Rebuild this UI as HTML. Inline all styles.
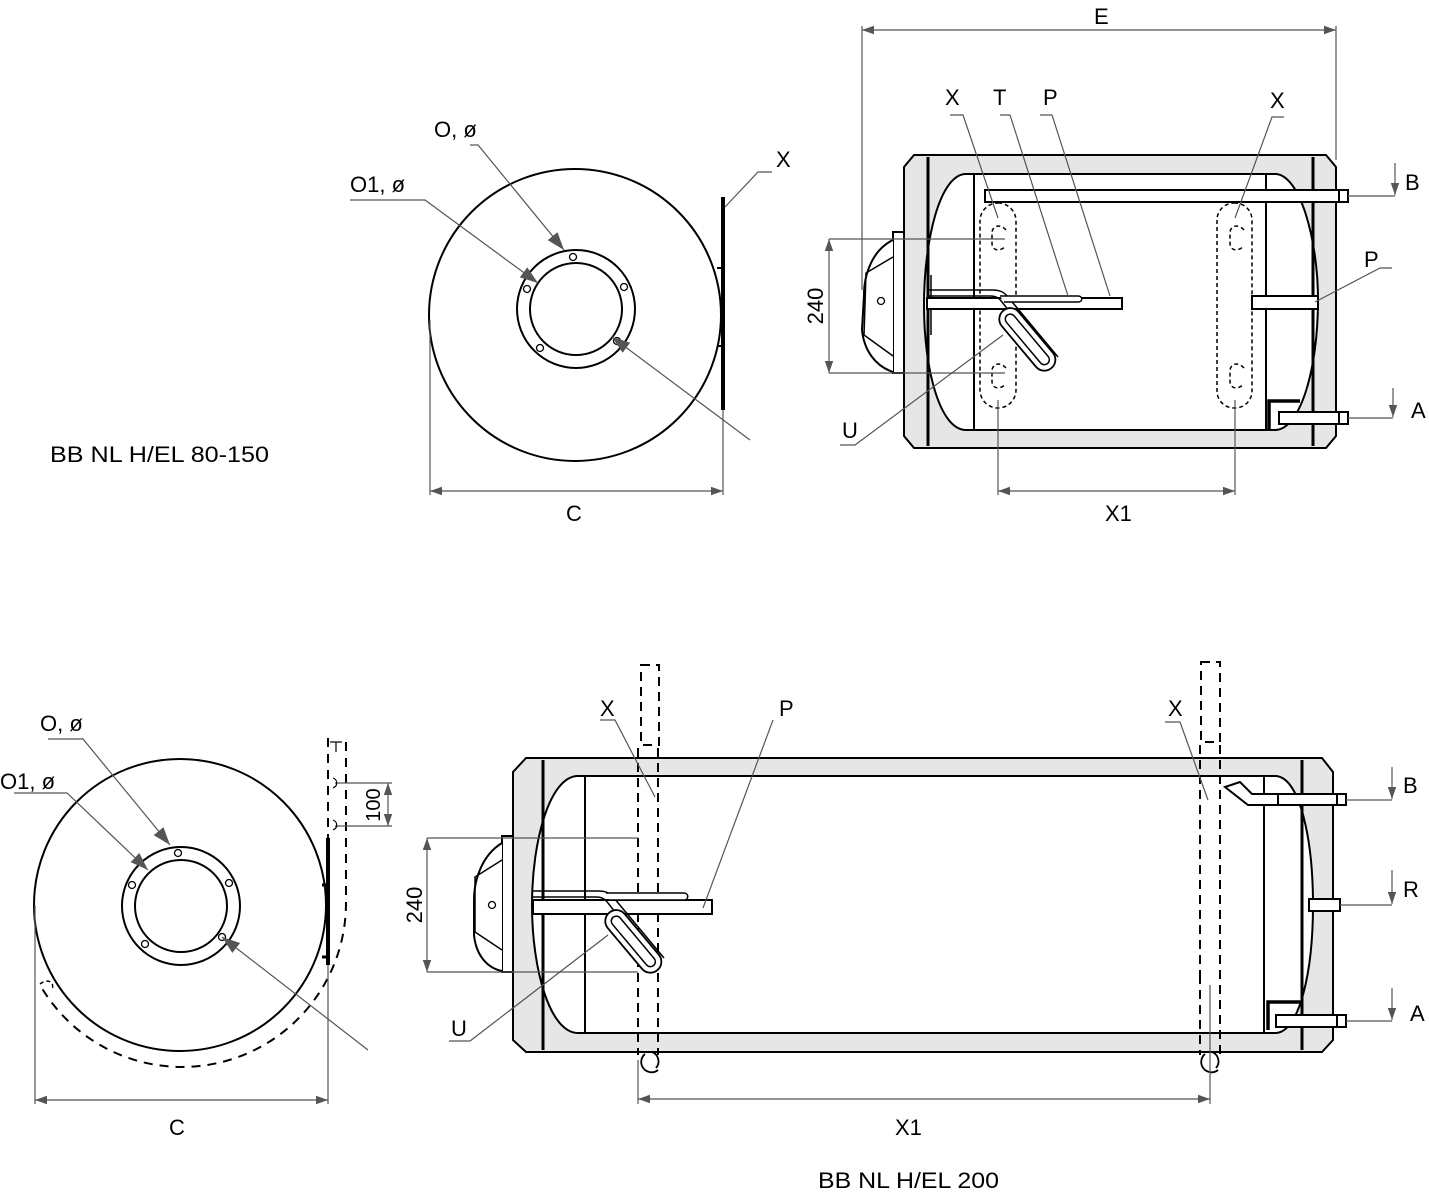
<!DOCTYPE html>
<html><head><meta charset="utf-8"><style>
html,body{margin:0;padding:0;background:#fff}
svg{display:block}
text{font-family:"Liberation Sans",sans-serif;font-size:22px;fill:#000}
</style></head><body>
<svg width="1429" height="1198" viewBox="0 0 1429 1198" xmlns="http://www.w3.org/2000/svg">
<defs>
<marker id="ar" viewBox="0 0 10 10" refX="10" refY="5" markerWidth="12" markerHeight="12" markerUnits="userSpaceOnUse" orient="auto-start-reverse"><path d="M0,1.5 L10,5 L0,8.5z" fill="#555"/></marker>
<marker id="ab" viewBox="0 0 10 10" refX="10" refY="5" markerWidth="18" markerHeight="18" markerUnits="userSpaceOnUse" orient="auto"><path d="M0,1.5 L10,5 L0,8.5z" fill="#555"/></marker>
</defs>
<g fill="none" stroke="#000" stroke-width="2">

<circle cx="575" cy="315" r="146"/>
<circle cx="576" cy="309" r="59"/>
<circle cx="576" cy="309" r="46"/>
<g stroke-width="1.3"><circle cx="573" cy="257" r="3.5"/><circle cx="527" cy="289" r="3.5"/><circle cx="624" cy="287" r="3.5"/><circle cx="540" cy="348" r="3.5"/><circle cx="617" cy="341" r="3.5"/></g>
<line x1="723" y1="197" x2="723" y2="410" stroke-width="4"/>
<line x1="717" y1="268" x2="723" y2="268"/><line x1="717" y1="346" x2="723" y2="346"/>
<g stroke="#555" stroke-width="1.2">
<line x1="430" y1="320" x2="430" y2="495"/><line x1="723" y1="410" x2="723" y2="495"/>
<line x1="430" y1="491" x2="723" y2="491" marker-start="url(#ar)" marker-end="url(#ar)"/>
<polyline points="470,145 478,145 564,250" marker-end="url(#ab)"/>
<polyline points="350,200 425,200 538,283" marker-end="url(#ab)"/>
<line x1="750" y1="440" x2="612" y2="337" marker-end="url(#ab)"/>
<polyline points="772,172 758,172 725,207"/>
</g>

<path d="M914,155 L1326,155 L1336,167 L1336,436 L1326,448 L914,448 L904,436 L904,167z" fill="#e6e6e6"/>
<path d="M966,174 L1275,174 C1300,174 1318,240 1318,300 C1318,370 1300,430 1275,430 L966,430 C940,430 924,370 924,305 C924,240 940,174 966,174z" fill="#fff"/>
<line x1="928" y1="157" x2="928" y2="446" stroke-width="3"/>
<line x1="1313" y1="157" x2="1313" y2="446" stroke-width="3"/>
<line x1="974" y1="174" x2="974" y2="430"/><line x1="1266" y1="174" x2="1266" y2="430"/>
<rect x="985" y="190" width="354" height="12" fill="#fff"/><rect x="1339" y="190" width="9" height="12" fill="#fff"/>
<rect x="1252" y="296" width="66" height="13" fill="#fff"/>
<path d="M1269,430 L1269,401 L1300,401" stroke-width="3.5"/>
<rect x="1279" y="412" width="60" height="12" fill="#fff"/><rect x="1339" y="412" width="9" height="12" fill="#fff"/>
<g stroke-dasharray="4,3" stroke-width="1.5">
<rect x="980" y="203" width="36" height="205" rx="18"/>
<rect x="1217" y="203" width="35" height="205" rx="17"/>
<path d="M1006,230 C1000,223 992,226 992,233 L992,243 C992,251 1000,252 1006,246"/>
<path d="M1006,368 C1000,361 992,364 992,371 L992,381 C992,389 1000,390 1006,384"/>
<path d="M1244,230 C1238,223 1230,226 1230,233 L1230,243 C1230,251 1238,252 1244,246"/>
<path d="M1244,368 C1238,361 1230,364 1230,371 L1230,381 C1230,389 1238,390 1244,384"/>
</g>
<rect x="893" y="232" width="11" height="141" fill="#fff"/>
<path d="M893,240 C872,250 864,275 864,295 L862,330 C864,350 875,366 893,372" fill="#fff"/>
<path d="M893,257 L866,273 L864,335 L893,356" stroke-width="1.5"/>
<circle cx="881" cy="301" r="3.5" stroke-width="1.3"/>
<line x1="931" y1="275" x2="931" y2="335" stroke-width="1.5"/>
<rect x="927" y="298" width="195" height="11" fill="#fff"/>
<path d="M927,290 L992,290 C1000,290 1004,292 1008,297 L1058,357" stroke-width="1.5"/>
<path d="M927,296 L990,296 C996,296 999,298 1002,302 L1046,358" stroke-width="1.5"/>
<path d="M1000,296 L1078,296 C1083,296 1083,302 1078,302 L1004,302" stroke-width="1.5" fill="#fff"/>
<rect x="990" y="328" width="75" height="22" rx="11" transform="rotate(50 1027 339)" fill="#fff" stroke-width="1.8"/>
<rect x="996" y="334" width="63" height="10" rx="5" transform="rotate(50 1027 339)" stroke-width="1.5"/>
<g stroke="#555" stroke-width="1.2">
<line x1="862" y1="30" x2="1336" y2="30" marker-start="url(#ar)" marker-end="url(#ar)"/>
<line x1="862" y1="26" x2="862" y2="290"/><line x1="1336" y1="26" x2="1336" y2="160"/>
<line x1="829" y1="239" x2="1005" y2="239"/><line x1="829" y1="373" x2="1005" y2="373"/>
<line x1="829" y1="239" x2="829" y2="373" marker-start="url(#ar)" marker-end="url(#ar)"/>
<line x1="998" y1="400" x2="998" y2="495"/><line x1="1235" y1="400" x2="1235" y2="495"/>
<line x1="998" y1="491" x2="1235" y2="491" marker-start="url(#ar)" marker-end="url(#ar)"/>
<polyline points="950,115 963,115 998,218"/>
<polyline points="1000,115 1010,115 1068,296"/>
<polyline points="1040,115 1052,115 1110,296"/>
<polyline points="1284,117 1272,117 1235,218"/>
<polyline points="1392,268 1380,268 1315,302"/>
<polyline points="1348,196 1395,196"/><line x1="1395" y1="163" x2="1395" y2="195" marker-end="url(#ar)"/>
<polyline points="1348,418 1393,418"/><line x1="1393" y1="388" x2="1393" y2="417" marker-end="url(#ar)"/>
<polyline points="840,445 855,445 1003,335"/>
</g>

<circle cx="180" cy="905" r="146"/>
<circle cx="181" cy="906" r="59"/>
<circle cx="181" cy="906" r="46"/>
<g stroke-width="1.3"><circle cx="178" cy="853" r="3.5"/><circle cx="132" cy="885" r="3.5"/><circle cx="229" cy="883" r="3.5"/><circle cx="145" cy="944" r="3.5"/><circle cx="222" cy="937" r="3.5"/></g>
<g stroke-dasharray="9,7">
<line x1="328" y1="738" x2="328" y2="838"/>
<line x1="346" y1="742" x2="346" y2="902"/>
<path d="M346,902 A164,164 0 0 1 40,985"/>
</g>
<path d="M40,984 C48,978 55,982 52,990" stroke-dasharray="4,3" stroke-width="1.5"/>
<line x1="328" y1="838" x2="328" y2="965" stroke-width="4"/>
<line x1="322" y1="885" x2="328" y2="885" stroke-width="3"/><line x1="322" y1="957" x2="328" y2="957" stroke-width="3"/>
<g stroke="#555" stroke-width="1.2">
<line x1="35" y1="905" x2="35" y2="1104"/><line x1="328" y1="965" x2="328" y2="1104"/>
<line x1="35" y1="1100" x2="328" y2="1100" marker-start="url(#ar)" marker-end="url(#ar)"/>
<line x1="335" y1="783" x2="392" y2="783"/><line x1="335" y1="826" x2="392" y2="826"/>
<line x1="388" y1="783" x2="388" y2="826" marker-start="url(#ar)" marker-end="url(#ar)"/>
<polyline points="48,739 83,739 170,845" marker-end="url(#ab)"/>
<polyline points="14,793 67,793 148,870" marker-end="url(#ab)"/>
<line x1="368" y1="1050" x2="222" y2="937" marker-end="url(#ab)"/>
</g>

<path d="M526,758 L1322,758 L1333,772 L1333,1040 L1322,1052 L526,1052 L513,1040 L513,772z" fill="#e6e6e6"/>
<path d="M578,776 L1275,776 C1300,776 1313,840 1313,905 C1313,970 1300,1033 1275,1033 L578,1033 C550,1033 532,970 532,905 C532,840 550,776 578,776z" fill="#fff"/>
<line x1="543" y1="760" x2="543" y2="1050" stroke-width="3"/>
<line x1="1302" y1="760" x2="1302" y2="1050" stroke-width="3"/>
<line x1="585" y1="776" x2="585" y2="1033"/><line x1="1264" y1="776" x2="1264" y2="1033"/>
<path d="M1225,787 L1240,782 L1252,794 L1278,794 L1278,805 L1248,805z" fill="#fff"/>
<rect x="1278" y="794" width="59" height="11" fill="#fff"/><rect x="1337" y="794" width="9" height="11" fill="#fff"/>
<rect x="1309" y="899" width="31" height="12" fill="#fff"/>
<path d="M1268,1030 L1268,1002 L1300,1002" stroke-width="3.5"/>
<rect x="1276" y="1015" width="61" height="12" fill="#fff"/><rect x="1337" y="1015" width="9" height="12" fill="#fff"/>
<g stroke-dasharray="9,6">
<rect x="641" y="665" width="18" height="80"/>
<line x1="638" y1="748" x2="638" y2="1055"/><line x1="658" y1="748" x2="658" y2="1055"/>
<rect x="1201" y="662" width="19" height="80"/>
<line x1="1200" y1="745" x2="1200" y2="975"/><line x1="1220" y1="745" x2="1220" y2="1055"/>
<line x1="1200" y1="975" x2="1200" y2="1055"/>
</g>
<path d="M645,1054 A10,10 0 0 0 658,1070" stroke-width="1.8"/><path d="M652,1052 A10,10 0 0 1 656,1068" stroke-width="1.8"/>
<path d="M1205,1054 A10,10 0 0 0 1218,1070" stroke-width="1.8"/><path d="M1212,1052 A10,10 0 0 1 1216,1068" stroke-width="1.8"/>
<rect x="502" y="836" width="11" height="136" fill="#fff"/>
<path d="M502,843 C482,855 474,880 474,900 L474,935 C476,955 487,968 502,971" fill="#fff"/>
<path d="M502,860 L475,877 L475,932 L502,950" stroke-width="1.5"/>
<circle cx="492" cy="905" r="3.5" stroke-width="1.3"/>
<rect x="533" y="900" width="179" height="14" fill="#fff"/>
<path d="M533,891 L598,891 C606,891 610,893 614,898 L664,958" stroke-width="1.5"/>
<path d="M533,897 L596,897 C602,897 605,899 608,903 L652,959" stroke-width="1.5"/>
<path d="M606,893 L684,893 C689,893 689,900 684,900 L610,900" stroke-width="1.5" fill="#fff"/>
<rect x="596" y="930" width="75" height="22" rx="11" transform="rotate(50 633 941)" fill="#fff" stroke-width="1.8"/>
<rect x="602" y="936" width="63" height="10" rx="5" transform="rotate(50 633 941)" stroke-width="1.5"/>
<g stroke="#555" stroke-width="1.2">
<line x1="427" y1="838" x2="638" y2="838"/><line x1="427" y1="972" x2="638" y2="972"/>
<line x1="427" y1="838" x2="427" y2="972" marker-start="url(#ar)" marker-end="url(#ar)"/>
<line x1="638" y1="1060" x2="638" y2="1104"/><line x1="1210" y1="985" x2="1210" y2="1104"/>
<line x1="638" y1="1099" x2="1210" y2="1099" marker-start="url(#ar)" marker-end="url(#ar)"/>
<polyline points="600,720 615,720 655,797"/>
<line x1="773" y1="720" x2="703" y2="908"/>
<polyline points="1165,722 1180,722 1208,800"/>
<polyline points="449,1041 470,1041 608,935"/>
<polyline points="1346,800 1392,800"/><line x1="1392" y1="767" x2="1392" y2="799" marker-end="url(#ar)"/>
<polyline points="1340,905 1392,905"/><line x1="1392" y1="870" x2="1392" y2="904" marker-end="url(#ar)"/>
<polyline points="1346,1021 1392,1021"/><line x1="1392" y1="988" x2="1392" y2="1020" marker-end="url(#ar)"/>
</g>
</g>

<g stroke="#000" stroke-width="1.2" fill="none">
<line x1="330" y1="742" x2="342" y2="742"/><line x1="336" y1="742" x2="336" y2="752"/>
<path d="M333,778 C338,780 338,786 333,788"/><path d="M333,820 C338,822 338,828 333,830"/>
</g>

<text x="1094" y="24">E</text>
<text x="945" y="105">X</text><text x="993" y="105">T</text><text x="1043" y="105">P</text><text x="1270" y="108">X</text>
<text x="1405" y="190">B</text><text x="1364" y="267">P</text><text x="1411" y="418">A</text>
<text x="842" y="438">U</text>
<text x="1105" y="521">X1</text>
<text x="566" y="521">C</text>
<text x="434" y="137">O, ø</text><text x="350" y="192">O1, ø</text><text x="776" y="167">X</text>
<text x="50" y="462" textLength="219" lengthAdjust="spacingAndGlyphs">BB NL H/EL 80-150</text>
<text transform="translate(823,306) rotate(-90)" text-anchor="middle">240</text>
<text x="40" y="731">O, ø</text><text x="0" y="789">O1, ø</text>
<text transform="translate(380,805) rotate(-90)" text-anchor="middle" style="font-size:20px">100</text>
<text transform="translate(422,905) rotate(-90)" text-anchor="middle">240</text>
<text x="169" y="1135">C</text>
<text x="600" y="716">X</text><text x="779" y="716">P</text><text x="1168" y="716">X</text>
<text x="1403" y="793">B</text><text x="1403" y="897">R</text><text x="1410" y="1021">A</text>
<text x="451" y="1036">U</text>
<text x="895" y="1135">X1</text>
<text x="818" y="1188" textLength="181" lengthAdjust="spacingAndGlyphs">BB NL H/EL 200</text>
</svg>
</body></html>
